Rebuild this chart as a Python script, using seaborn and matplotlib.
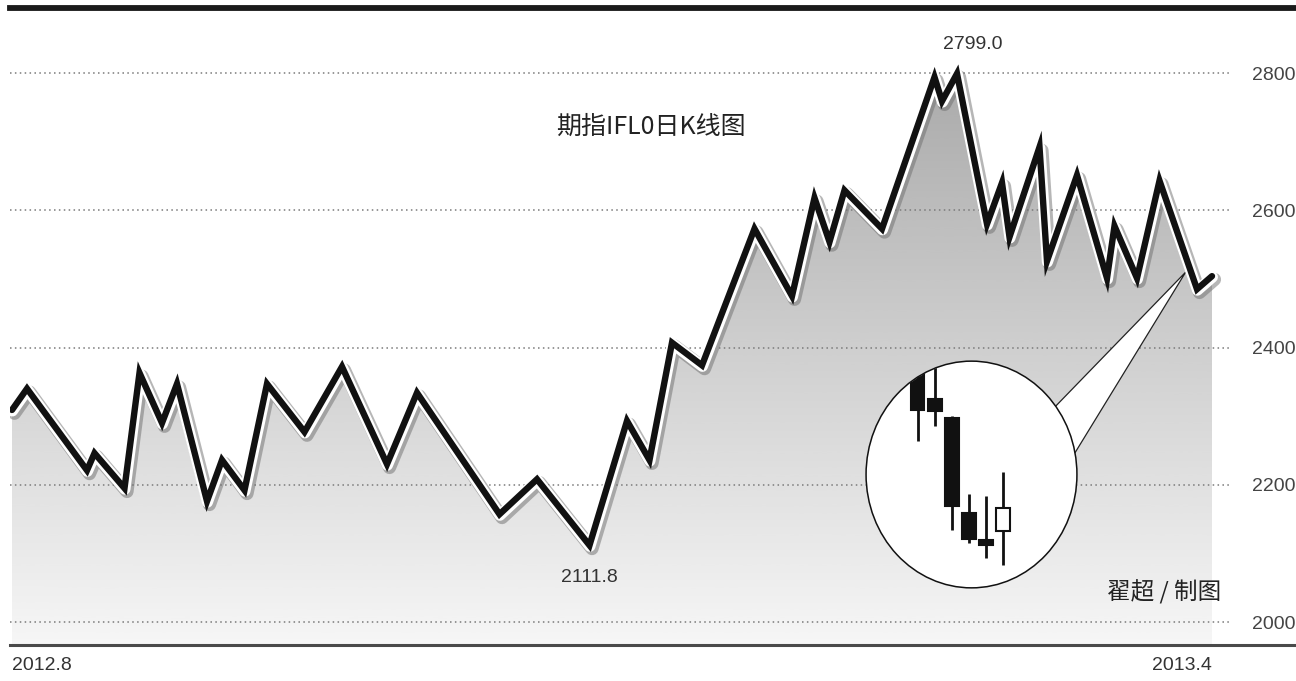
import numpy as np
import pandas as pd
import matplotlib
matplotlib.use("Agg")
import matplotlib.pyplot as plt
import matplotlib.patheffects as pe
from matplotlib.patches import Ellipse, Polygon
import seaborn as sns

# ---------------- data ----------------
days = [0, 2, 10, 11, 15, 17, 20, 22, 26, 28, 31, 34, 39, 44, 50, 54, 65, 70, 77, 82,
        85, 88, 92, 99, 104, 107, 109, 111, 116, 123, 124, 126, 130, 132, 133, 137, 138,
        142, 146, 147, 150, 153, 158, 160]
prices = [2309, 2340, 2221, 2246, 2195, 2363, 2290, 2347, 2176, 2236, 2192, 2347, 2277,
          2372, 2230, 2334, 2157, 2208, 2111.8, 2293, 2236, 2407, 2374, 2573, 2475, 2618,
          2554, 2629, 2573, 2794, 2759, 2799.0, 2580, 2640, 2561, 2692, 2526, 2651, 2501,
          2577, 2501, 2643, 2485, 2504]
y_ticks = [2000, 2200, 2400, 2600, 2800]
x_tick_days = [0, 160]
x_tick_labels = ["2012.8", "2013.4"]
title_text = "期指IFL0日K线图"
credit_text = "翟超 / 制图"

# inset candlesticks (relative units inside the magnifier)
c_open = [100.0, 82.8, 74.7, 33.2, 21.4, 25.3]
c_high = [110.0, 105.0, 75.5, 41.5, 40.6, 51.1]
c_low = [64.6, 71.2, 25.8, 20.1, 13.5, 10.5]
c_close = [78.2, 77.9, 36.2, 21.8, 19.2, 35.4]

df = pd.DataFrame({"day": days, "price": prices})

# ---------------- style ----------------
sns.set_theme(style="white")
plt.rcParams["font.family"] = ["Liberation Sans", "Noto Sans CJK SC", "DejaVu Sans"]

W, H = 1296, 681
fig = plt.figure(figsize=(W / 100, H / 100), dpi=100, facecolor="white")

# main axes (pixel layout)
ax_left, ax_right, ax_top, ax_bot = 10, 1296, 8, 645
ax = fig.add_axes([ax_left / W, 1 - ax_bot / H, (ax_right - ax_left) / W, (ax_bot - ax_top) / H])
ax.set_facecolor("white")

px_per_day = 7.5
x0_px = 12
ax.set_xlim((ax_left - x0_px) / px_per_day, (ax_right - x0_px) / px_per_day)
val_per_px = 200 / 137.25
y_lo = 2000 - (ax_bot - 622) * val_per_px
y_hi = 2000 + (622 - ax_top) * val_per_px
ax.set_ylim(y_lo, y_hi)

# gradient area under the line
poly = ax.fill_between(df["day"], df["price"], y_lo, facecolor="none", edgecolor="none", zorder=1)
grad = np.linspace(0.965, 0.66, 256).reshape(-1, 1)
im = ax.imshow(grad, cmap="gray", vmin=0, vmax=1, aspect="auto", origin="lower",
               extent=[min(days), max(days), y_lo, 2820], zorder=1, interpolation="bicubic")
im.set_clip_path(poly.get_paths()[0], transform=ax.transData)

# dotted grid lines
grid_end = (1232 - ax_left) / (ax_right - ax_left)
for yv in y_ticks:
    ax.axhline(yv, xmin=0, xmax=grid_end, color="#7a7a7a", lw=1.1,
               linestyle=(0, (1, 2.2)), zorder=2)

# callout wedge (from the last days to the magnifier)
tip = (156.5, 2510)
p1 = (139.2, 2315)
p2 = (141.7, 2246)
ctr = (127.9, 2214)
ax.add_patch(Polygon([tip, p1, ctr, p2], closed=True, facecolor="white", edgecolor="none", zorder=3))
ax.plot([p1[0], tip[0], p2[0]], [p1[1], tip[1], p2[1]], color="#222", lw=0.9, zorder=3)

# main line
sns.lineplot(data=df, x="day", y="price", ax=ax, color="#111111", lw=4.6, zorder=5,
             sort=False, estimator=None)
line = ax.lines[-1]
line.set_solid_joinstyle("miter")
line.set_solid_capstyle("round")
line.set_path_effects([
    pe.SimpleLineShadow(offset=(1.8, -2.4), shadow_color="#6e6e6e", alpha=0.5, rho=1,
                        linewidth=9.5, joinstyle="round"),
    pe.Stroke(offset=(0.3, -0.7), linewidth=8.0, foreground="white", joinstyle="round"),
    pe.Normal(),
])

# peak / trough annotations
i_max = int(np.argmax(prices))
i_min = int(np.argmin(prices))
ax.annotate(f"{prices[i_max]:.1f}", (days[i_max], prices[i_max]), xytext=(11, 21),
            textcoords="offset points", ha="center", va="center", fontsize=14, color="#333")
ax.annotate(f"{prices[i_min]:.1f}", (days[i_min], prices[i_min]), xytext=(0, -23),
            textcoords="offset points", ha="center", va="center", fontsize=14, color="#333")

# spines
for s in ["left", "right"]:
    ax.spines[s].set_visible(False)
ax.spines["top"].set_color("#1a1a1a")
ax.spines["top"].set_linewidth(4.2)
ax.spines["bottom"].set_color("#4a4a4a")
ax.spines["bottom"].set_linewidth(2.2)

# y tick labels on right, inside
ax.yaxis.tick_right()
ax.set_yticks(y_ticks)
ax.set_yticklabels([str(v) for v in y_ticks])
ax.tick_params(axis="y", length=0, pad=-(ax_right - 1252) * 0.72, labelsize=14, labelcolor="#444")
for t in ax.get_yticklabels():
    t.set_ha("left")

# x tick labels
ax.set_xticks(x_tick_days)
ax.set_xticklabels(x_tick_labels)
ax.tick_params(axis="x", length=0, pad=9, labelsize=14, labelcolor="#333")
xl = ax.get_xticklabels()
xl[0].set_ha("left")
xl[1].set_ha("right")
ax.set_xlabel("")
ax.set_ylabel("")

# texts
fig.text(651 / W, 1 - 127 / H, title_text, ha="center", va="center", fontsize=18,
         color="#222", family=["Noto Sans CJK SC", "DejaVu Sans"])
fig.text(1164 / W, 1 - 592 / H, credit_text, ha="center", va="center", fontsize=17,
         color="#222", family=["Noto Sans CJK SC", "DejaVu Sans"])

# magnifier inset with candlesticks
ax_in = fig.add_axes([865 / W, 1 - 589 / H, 213 / W, 229 / H])
ax_in.set_xlim(-3.1, 9.4)
ax_in.set_ylim(0, 100)
ax_in.axis("off")
ax_in.patch.set_visible(False)
circ = Ellipse((0.5, 0.5), 0.99, 0.99, transform=ax_in.transAxes, facecolor="white",
               edgecolor="#111", lw=1.1, zorder=1)
ax_in.add_patch(circ)
clip = Ellipse((0.5, 0.5), 0.985, 0.985, transform=ax_in.transAxes, facecolor="none", edgecolor="none")
ax_in.add_patch(clip)
xs = np.arange(len(c_open))
for i in xs:
    o, h, l, c = c_open[i], c_high[i], c_low[i], c_close[i]
    wk = ax_in.vlines(i, l, h, color="#111", lw=2.0, zorder=2)
    wk.set_clip_path(clip)
    bear = c < o
    b = ax_in.bar(i, abs(c - o), bottom=min(o, c), width=0.78,
                  color="#111" if bear else "white", edgecolor="#111", lw=1.5, zorder=3)
    for r in b:
        r.set_clip_path(clip)

fig.savefig("out.png", dpi=100, facecolor="white")
